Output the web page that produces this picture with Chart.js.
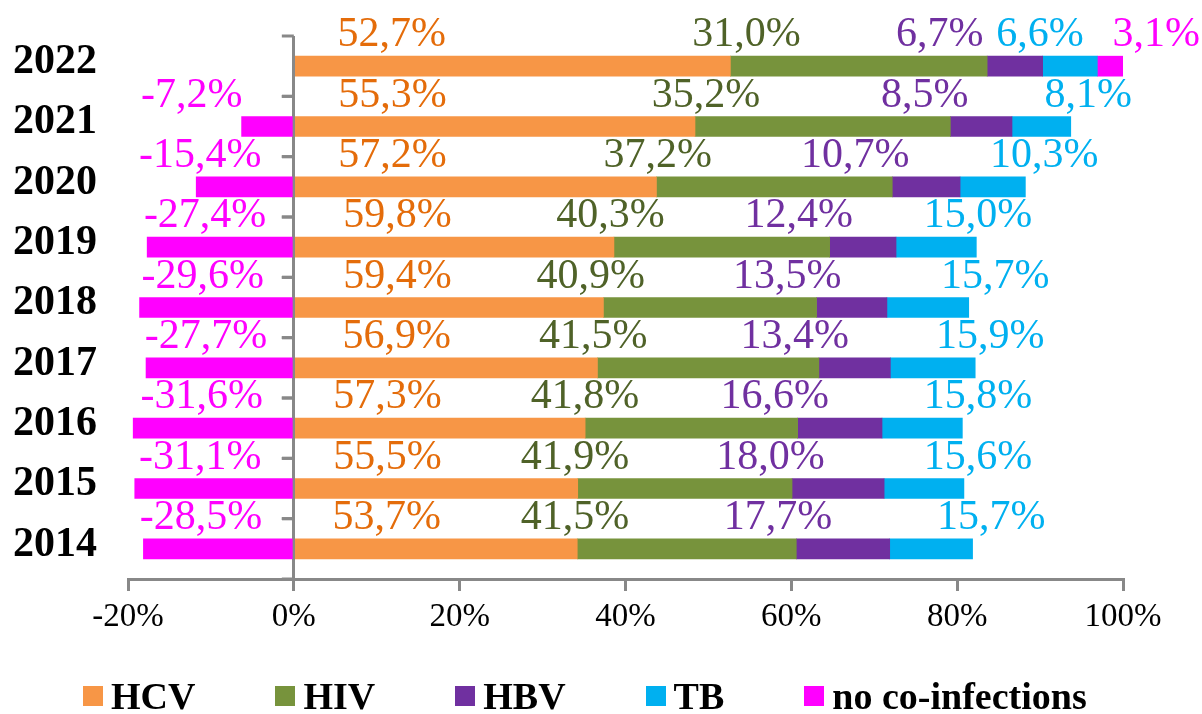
<!DOCTYPE html>
<html>
<head>
<meta charset="utf-8">
<title>Co-infections</title>
<script src="https://cdn.jsdelivr.net/npm/chart.js@4"></script>
<style>
  html, body { margin: 0; padding: 0; background: #fff; }
  #wrap { position: relative; width: 1202px; height: 714px; }
  #legend {
    position: absolute; left: 83px; top: 677px; height: 38px;
    display: flex; align-items: center; gap: 80px;
    font: bold 38px "Liberation Serif", "Times New Roman", serif; color: #000;
    line-height: 38px; white-space: nowrap;
  }
  .item { display: flex; align-items: center; gap: 8px; }
  .box { width: 20px; height: 20px; }
</style>
</head>
<body>
<div id="wrap">
  <canvas id="chart" width="1202" height="714"></canvas>
  <div id="legend"></div>
</div>
<script>
// values as printed on the chart, 2014 .. 2022
const years = ['2014', '2015', '2016', '2017', '2018', '2019', '2020', '2021', '2022'];
const hcv = [53.7, 55.5, 57.3, 56.9, 59.4, 59.8, 57.2, 55.3, 52.7];
const hiv = [41.5, 41.9, 41.8, 41.5, 40.9, 40.3, 37.2, 35.2, 31.0];
const hbv = [17.7, 18.0, 16.6, 13.4, 13.5, 12.4, 10.7, 8.5, 6.7];
const tb = [15.7, 15.6, 15.8, 15.9, 15.7, 15.0, 10.3, 8.1, 6.6];
const noCo = [-28.5, -31.1, -31.6, -27.7, -29.6, -27.4, -15.4, -7.2, 3.1];

const seriesNames = ['HCV', 'HIV', 'HBV', 'TB', 'no co-infections'];
const xTicks = [-20, 0, 20, 40, 60, 80, 100];

// where each value label sits along the x axis (axis units), same order as years
const labelAt = [
  [11.2, 11.3, 11.3, 12.4, 12.5, 12.5, 11.9, 11.9, 11.8],
  [33.9, 33.9, 35.1, 36.1, 35.8, 38.2, 43.9, 49.7, 54.6],
  [58.4, 57.5, 58.0, 60.4, 59.5, 60.9, 67.7, 76.1, 77.9],
  [84.1, 82.5, 82.5, 84.0, 84.6, 82.5, 90.5, 95.8, 90.0],
  [-11.2, -11.3, -11.1, -10.6, -11.0, -10.7, -11.3, -12.3, 104.0]
];

const barColors = ['#F79646', '#77933C', '#7030A0', '#00B0F0', '#FF00FF'];
const labelColors = ['#E46C0A', '#4F6228', '#7030A0', '#00B0F0', '#FF00FF'];
const FONT = '"Liberation Serif", "Times New Roman", serif';

const series = [hcv, hiv, hbv, tb, noCo];

// 100% stacked: each value is shared out of the sum of absolute values of its year
const totals = years.map((_, i) => series.reduce((s, arr) => s + Math.abs(arr[i]), 0));
const shares = series.map(arr => arr.map((v, i) => v / totals[i] * 100));

const fmt = v => v.toFixed(1).replace('.', ',') + '%';

const valueLabels = {
  id: 'valueLabels',
  afterDatasetsDraw(chart) {
    const { ctx, scales: { x, y } } = chart;
    ctx.save();
    ctx.font = '42px ' + FONT;
    ctx.textAlign = 'center';
    ctx.textBaseline = 'alphabetic';
    series.forEach((arr, s) => {
      ctx.fillStyle = labelColors[s];
      arr.forEach((v, i) => {
        const px = x.getPixelForValue(labelAt[s][i]);
        const py = y.getPixelForValue(i) - 34 + 14;
        ctx.fillText(fmt(v), px, py);
      });
    });
    ctx.restore();
  }
};

const zeroAxisTicks = {
  id: 'zeroAxisTicks',
  afterDraw(chart) {
    const { ctx, scales: { x, y } } = chart;
    const x0 = x.getPixelForValue(0);
    const band = Math.abs(y.getPixelForValue(1) - y.getPixelForValue(0));
    ctx.save();
    ctx.strokeStyle = '#888888';
    ctx.lineWidth = 3;
    years.forEach((_, i) => {
      const c = y.getPixelForValue(i);
      [c - band / 2, c + band / 2].forEach(yy => {
        ctx.beginPath();
        ctx.moveTo(x0 - 12, yy);
        ctx.lineTo(x0, yy);
        ctx.stroke();
      });
    });
    ctx.restore();
  }
};

new Chart(document.getElementById('chart'), {
  type: 'bar',
  data: {
    labels: years,
    datasets: seriesNames.map((name, s) => ({
      label: name,
      data: shares[s],
      backgroundColor: barColors[s],
      borderWidth: 0,
      barThickness: 20
    }))
  },
  options: {
    indexAxis: 'y',
    responsive: false,
    animation: false,
    devicePixelRatio: 1,
    layout: { padding: { top: 36, right: 79, bottom: 75, left: 0 } },
    plugins: { legend: { display: false }, tooltip: { enabled: false } },
    scales: {
      x: {
        stacked: true,
        min: -20,
        max: 100,
        afterBuildTicks: scale => { scale.ticks = xTicks.map(v => ({ value: v })); },
        afterFit: scale => { scale.height = 60; },
        ticks: {
          callback: v => v + '%',
          color: '#000',
          font: { family: FONT, size: 33 },
          padding: 7,
          maxRotation: 0
        },
        grid: {
          color: c => (c.tick && c.tick.value === 0 ? '#888888' : 'rgba(0,0,0,0)'),
          tickColor: '#888888',
          lineWidth: 3,
          tickLength: 12
        },
        border: { color: '#888888', width: 3 }
      },
      y: {
        stacked: true,
        reverse: true,
        afterFit: scale => {
          scale.width = 128;
          scale.paddingTop = 0;
          scale.paddingBottom = 0;
        },
        ticks: {
          color: '#000',
          font: { family: FONT, size: 42, weight: 'bold' },
          padding: 23,
          labelOffset: -4
        },
        grid: { display: false },
        border: { display: false }
      }
    }
  },
  plugins: [valueLabels, zeroAxisTicks]
});

const legend = document.getElementById('legend');
seriesNames.forEach((name, s) => {
  const item = document.createElement('div');
  item.className = 'item';
  const box = document.createElement('span');
  box.className = 'box';
  box.style.background = barColors[s];
  const txt = document.createElement('span');
  txt.textContent = name;
  item.appendChild(box);
  item.appendChild(txt);
  legend.appendChild(item);
});
</script>
</body>
</html>
